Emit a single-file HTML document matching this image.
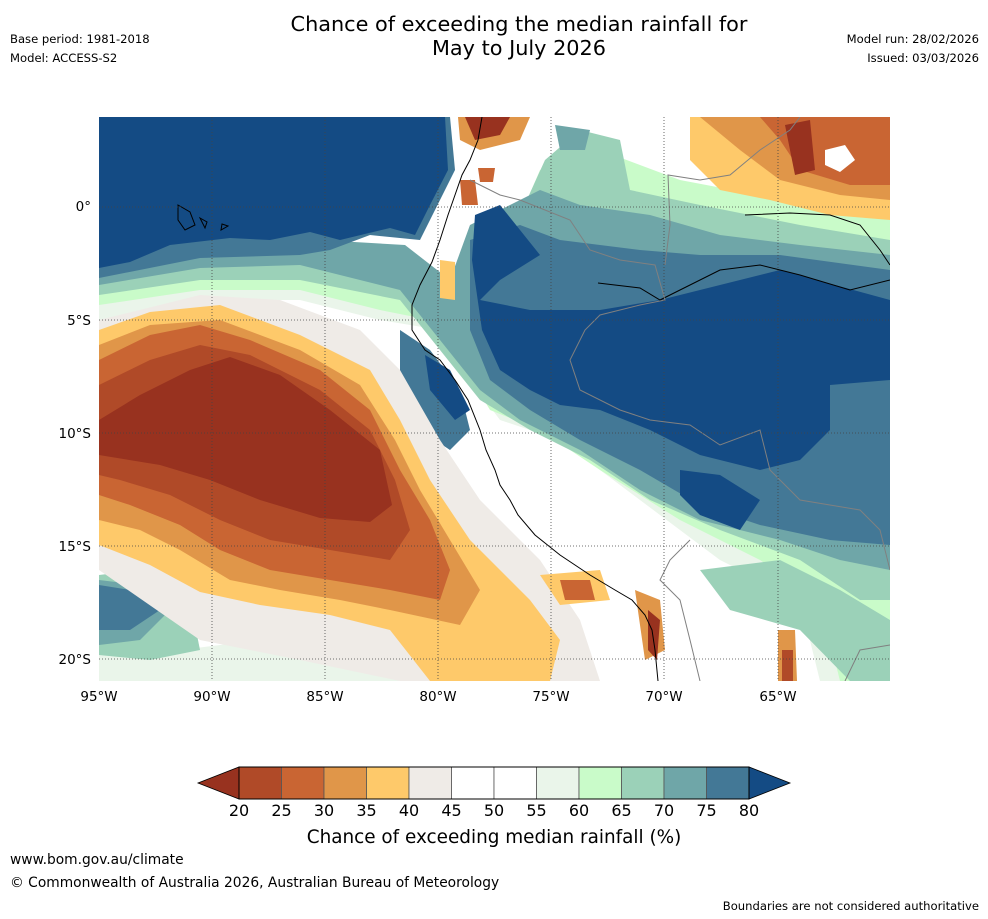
<!DOCTYPE html>
<html><head><meta charset="utf-8"><style>
body{margin:0;width:988px;height:919px;background:#fff;font-family:"DejaVu Sans","Liberation Sans",sans-serif;position:relative;overflow:hidden}
.t{position:absolute;font-size:12px;color:#000;white-space:nowrap}
</style></head><body>
<div class="t" style="left:0;width:1038px;top:12px;text-align:center;font-size:20.8px;line-height:24px">Chance of exceeding the median rainfall for<br>May to July 2026</div>
<div class="t" style="left:10px;top:32px;font-size:11.6px">Base period: 1981-2018</div>
<div class="t" style="left:10px;top:51px;font-size:11.6px">Model: ACCESS-S2</div>
<div class="t" style="right:9px;top:32px;font-size:11.6px">Model run: 28/02/2026</div>
<div class="t" style="right:9px;top:51px;font-size:11.6px">Issued: 03/03/2026</div>
<svg id="map" width="988" height="919" style="position:absolute;left:0;top:0">
<defs><clipPath id="mc"><rect x="99" y="117" width="791" height="564"/></clipPath></defs>
<g clip-path="url(#mc)">
<rect x="99" y="117" width="791" height="564" fill="#fff"/>
<path fill="#eaf5ea" d="M99,290 L200,280 L330,270 L420,280 L470,300 L520,250 L560,200 L700,190 L890,230 L890,681 L820,681 L800,600 L720,560 L640,500 L560,440 L500,420 L470,380 L440,330 L380,320 L300,300 L200,300 L99,320Z"/>
<path fill="#c9fbc9" d="M99,280 L200,270 L330,262 L420,270 L470,290 L510,240 L540,170 L600,150 L680,180 L890,220 L890,681 L840,681 L820,600 L760,560 L680,520 L600,470 L540,430 L490,410 L460,360 L430,320 L380,310 L300,290 L200,290 L99,305Z"/>
<path fill="#c9fbc9" d="M99,580 L150,570 L200,600 L260,620 L99,650Z"/>
<path fill="#eaf5ea" d="M99,640 L180,650 L260,640 L330,660 L400,681 L99,681Z"/>
<path fill="#9bd1b8" d="M99,270 L200,258 L320,250 L410,255 L455,285 L480,250 L520,215 L545,160 L580,130 L620,140 L630,190 L700,205 L800,225 L890,240 L890,600 L860,600 L800,560 L720,530 L650,500 L590,460 L530,430 L480,400 L440,350 L400,300 L300,280 L200,280 L99,295Z"/>
<path fill="#9bd1b8" d="M99,575 L140,570 L190,600 L200,650 L150,660 L99,655Z"/>
<path fill="#9bd1b8" d="M700,570 L780,560 L840,590 L890,620 L890,681 L850,681 L800,630 L730,610Z"/>
<path fill="#6fa6a8" d="M99,260 L200,250 L320,240 L405,245 L450,280 L470,225 L510,205 L540,190 L580,205 L650,215 L720,235 L800,245 L890,255 L890,570 L840,560 L780,540 L700,520 L640,490 L580,450 L520,420 L480,390 L440,340 L400,290 L300,265 L200,268 L99,285Z"/>
<path fill="#6fa6a8" d="M555,125 L590,130 L585,150 L560,150Z"/>
<path fill="#6fa6a8" d="M99,580 L140,585 L170,610 L140,640 L99,645Z"/>
<path fill="#437896" d="M99,117 L450,117 L455,170 L440,200 L420,240 L370,235 L330,250 L300,255 L200,258 L99,278Z"/>
<path fill="#437896" d="M470,240 L520,225 L560,240 L640,250 L700,255 L780,255 L890,270 L890,545 L830,540 L760,525 L700,505 L640,470 L580,440 L530,410 L490,380 L470,330Z"/>
<path fill="#437896" d="M400,330 L430,350 L460,390 L470,430 L450,450 L420,430 L400,390Z"/>
<path fill="#437896" d="M99,585 L130,590 L160,610 L130,630 L99,630Z"/>
<path fill="#144b84" d="M99,117 L445,117 L448,170 L430,205 L415,235 L390,228 L340,240 L310,232 L270,240 L230,238 L170,245 L130,262 L99,268Z"/>
<path fill="#144b84" d="M475,215 L500,205 L520,230 L540,255 L500,280 L480,300 L530,310 L600,310 L660,300 L720,285 L780,270 L890,300 L890,380 L830,385 L830,430 L800,460 L760,470 L700,455 L650,430 L600,410 L560,405 L530,390 L500,370 L482,330 L472,260Z"/>
<path fill="#144b84" d="M680,470 L720,475 L760,500 L740,530 L700,515 L680,495Z"/>
<path fill="#144b84" d="M425,355 L450,370 L470,410 L455,420 L430,390Z"/>
<path fill="#efebe7" d="M99,320 L200,295 L280,300 L360,330 L400,370 L440,440 L480,500 L540,560 L580,620 L600,681 L400,681 L300,660 L200,640 L99,570Z"/>
<path fill="#fec96a" d="M99,330 L150,312 L220,305 L300,335 L370,370 L400,420 L430,480 L470,540 L530,600 L560,640 L550,681 L430,681 L390,630 L330,615 L260,605 L200,592 L150,565 L99,545Z"/>
<path fill="#e09649" d="M99,345 L150,325 L220,320 L300,350 L360,385 L395,440 L420,490 L450,540 L480,590 L460,625 L390,610 L340,600 L280,590 L230,580 L180,550 L140,530 L99,520Z"/>
<path fill="#c96533" d="M99,360 L150,335 L200,325 L250,340 L320,370 L370,410 L400,470 L430,520 L450,570 L440,600 L390,590 L330,580 L270,570 L220,550 L180,525 L130,505 L99,495Z"/>
<path fill="#b04a28" d="M99,385 L150,360 L200,345 L250,355 L320,390 L370,430 L395,480 L410,530 L390,560 L330,550 L270,540 L220,520 L170,495 L120,480 L99,475Z"/>
<path fill="#98321f" d="M99,420 L140,395 L190,370 L230,357 L280,375 L330,410 L380,450 L392,505 L370,522 L320,518 L260,500 L210,480 L160,465 L99,455Z"/>
<path fill="#fec96a" d="M540,575 L600,570 L610,600 L560,605Z"/>
<path fill="#c96533" d="M560,580 L590,580 L595,600 L565,600Z"/>
<path fill="#e09649" d="M635,590 L660,600 L665,650 L645,660Z"/>
<path fill="#98321f" d="M648,610 L660,620 L657,660 L648,650Z"/>
<path fill="#e09649" d="M778,630 L795,630 L797,681 L778,681Z"/>
<path fill="#b04a28" d="M782,650 L793,650 L793,681 L782,681Z"/>
<path fill="#fec96a" d="M690,117 L890,117 L890,220 L830,215 L770,200 L720,190 L690,160Z"/>
<path fill="#e09649" d="M700,117 L890,117 L890,200 L840,195 L780,180 L740,150Z"/>
<path fill="#c96533" d="M760,117 L890,117 L890,185 L850,185 L800,170 L780,140Z"/>
<path fill="#98321f" d="M785,125 L810,120 L815,170 L795,175Z"/>
<path fill="#fff" d="M825,150 L845,145 L855,160 L840,172 L825,165Z"/>
<path fill="#e09649" d="M458,117 L530,117 L520,140 L480,150 L460,140Z"/>
<path fill="#98321f" d="M465,117 L510,117 L500,135 L475,140Z"/>
<path fill="#c96533" d="M460,180 L475,180 L478,205 L462,205Z"/>
<path fill="#c96533" d="M478,168 L495,168 L493,182 L480,182Z"/>
<path fill="#fec96a" d="M440,260 L455,262 L455,300 L440,298Z"/>
</g>
<g clip-path="url(#mc)" fill="none" stroke-width="1">
<path stroke="#000" d="M482,117 L478,140 L470,160 L462,175 L455,195 L448,215 L440,240 L432,262 L420,285 L412,305 L412,330 L425,350 L440,360 L455,380 L468,400 L480,430 L486,450 L495,470 L500,485 L510,500 L518,515 L535,535 L560,555 L590,575 L615,590 L632,600 L645,615 L652,630 L655,650 L658,681"/>
<path stroke="#000" d="M745,215 L790,213 L830,215 L860,225 L880,250 L890,265"/>
<path stroke="#000" d="M598,283 L640,288 L660,300 L680,290 L720,270 L760,265 L800,275 L850,290 L890,280"/>
<path stroke="#000" d="M178,205 L190,212 L195,225 L185,230 L178,220Z M200,218 L207,222 L205,228 Z M222,224 L228,226 L221,230Z"/>
<path stroke="#808080" d="M470,180 L500,195 L520,200 L545,210 L570,220 L590,250 L620,260 L655,265 L665,300 L640,305 L600,315 L585,330 L570,360 L580,390 L620,410 L650,420 L690,425 L720,445 L760,430 L770,470 L800,500 L860,510 L880,530 L890,570"/>
<path stroke="#808080" d="M665,265 L670,225 L668,175 L700,180 L730,175 L760,150 L790,130 L800,117"/>
<path stroke="#808080" d="M690,540 L670,560 L660,580 L680,600 L690,640 L700,681"/>
<path stroke="#808080" d="M845,681 L860,650 L890,645"/>
<path stroke="#444" stroke-dasharray="1,2" stroke-width="0.8" d="M99,207H890 M99,320H890 M99,433H890 M99,546H890 M99,659H890 M212,117V681 M325,117V681 M438,117V681 M551,117V681 M664,117V681 M778,117V681"/>
</g>
<g font-size="13.5" fill="#000">
<text x="91" y="211" text-anchor="end">0°</text>
<text x="91" y="325" text-anchor="end">5°S</text>
<text x="91" y="438" text-anchor="end">10°S</text>
<text x="91" y="551" text-anchor="end">15°S</text>
<text x="91" y="664" text-anchor="end">20°S</text>
<text x="99" y="701" text-anchor="middle">95°W</text>
<text x="212" y="701" text-anchor="middle">90°W</text>
<text x="325" y="701" text-anchor="middle">85°W</text>
<text x="438" y="701" text-anchor="middle">80°W</text>
<text x="551" y="701" text-anchor="middle">75°W</text>
<text x="664" y="701" text-anchor="middle">70°W</text>
<text x="778" y="701" text-anchor="middle">65°W</text>
</g>
<g id="cbar"></g>
<text x="494" y="843" text-anchor="middle" font-size="18.4">Chance of exceeding median rainfall (%)</text>
</svg>
<div class="t" style="left:10px;top:852px;font-size:13.8px">www.bom.gov.au/climate</div>
<div class="t" style="left:10px;top:875px;font-size:13.8px">© Commonwealth of Australia 2026, Australian Bureau of Meteorology</div>
<div class="t" style="right:9px;top:899px;font-size:11.6px">Boundaries are not considered authoritative</div>
<script>
const levels=[20,25,30,35,40,45,50,55,60,65,70,75,80];
const binColors=["#b04a28","#c96533","#e09649","#fec96a","#efebe7","#ffffff","#ffffff","#eaf5ea","#c9fbc9","#9bd1b8","#6fa6a8","#437896"];
const lowColor="#98321f", highColor="#144b84";
const ns="http://www.w3.org/2000/svg";
const g=document.getElementById('cbar');
const x0=239,x1=749,y0=767,h=32;
const sx=v=>x0+(v-levels[0])/(levels[levels.length-1]-levels[0])*(x1-x0);
function mk(t,a){const e=document.createElementNS(ns,t);for(const k in a)e.setAttribute(k,a[k]);g.appendChild(e);return e;}
let lo=mk('polygon',{points:`${x0},${y0} ${x0},${y0+h} 198,${y0+h/2}`,fill:lowColor,stroke:'#000','stroke-width':0.8});


let hi=mk('polygon',{points:`${x1},${y0} ${x1},${y0+h} 790,${y0+h/2}`,fill:highColor,stroke:'#000','stroke-width':0.8});


binColors.forEach((c,i)=>{
 const r=mk('rect',{x:sx(levels[i]),y:y0,width:sx(levels[i+1])-sx(levels[i]),height:h,fill:c,stroke:'#555','stroke-width':0.8});
 
 
});
mk('rect',{x:x0,y:y0,width:x1-x0,height:h,fill:'none',stroke:'#000','stroke-width':1});
levels.forEach(v=>{
 const t=mk('text',{x:sx(v),y:816,'text-anchor':'middle','font-size':16});
 t.textContent=v;
 
 
});
</script>
</body></html>
